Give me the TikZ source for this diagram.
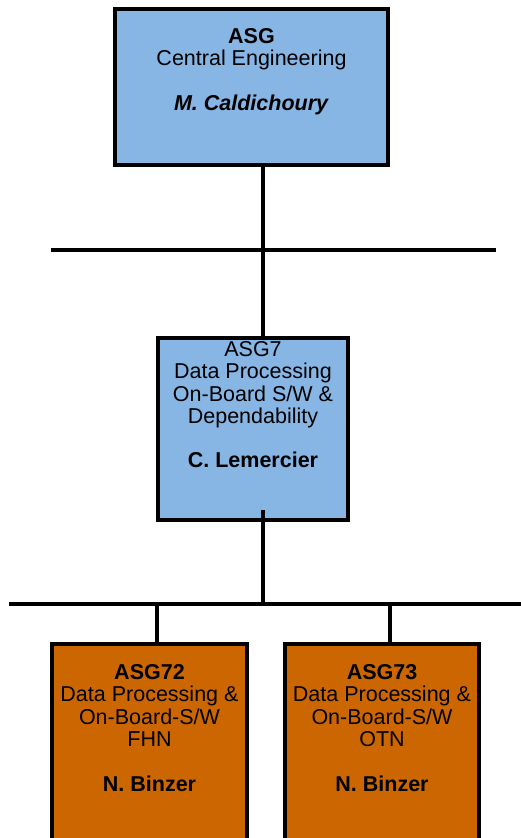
\documentclass[tikz,border=0pt]{standalone}
\usepackage{fontspec}
\setmainfont{Liberation Sans}
\usetikzlibrary{positioning}
\definecolor{deptblue}{RGB}{135,181,228}
\definecolor{deptorange}{RGB}{204,102,0}
\tikzset{
  unitbox/.style={draw=black, line width=3.5pt, inner sep=0pt},
  bluebox/.style={unitbox, fill=deptblue},
  orangebox/.style={unitbox, fill=deptorange},
  boxtext/.style={align=center, inner sep=0pt, font=\fontsize{21.5}{22.5}\selectfont},
  wire/.style={line width=3.5pt}
}
\begin{document}
\begin{tikzpicture}[x=1pt, y=-1pt]
\useasboundingbox (0, 0) rectangle (521, 838);
\clip (0, 0) rectangle (521, 838);
% boxes
\node[bluebox, minimum width=273pt, minimum height=156pt] (asg) at (251.5, 87) {};
\node[bluebox, minimum width=190pt, minimum height=182pt] (asgsev) at (253, 429) {};
\node[orangebox, minimum width=195pt, minimum height=256pt] (asgsevtwo) at (149.5, 772) {};
\node[orangebox, minimum width=194pt, minimum height=256pt] (asgsevthree) at (382, 772) {};
% texts
\node[boxtext, below=21pt of asg.north] (asgtext) {\textbf{ASG}\\Central Engineering\\[22pt]\textbf{\textit{M. Caldichoury}}};
\node[boxtext, below=5pt of asgsev.north] (asgsevtext) {ASG7\\Data Processing\\On-Board S/W \&\\Dependability\\[21pt]\textbf{C. Lemercier}};
\node[boxtext, below=22pt of asgsevtwo.north] (asgsevtwotext) {\textbf{ASG72}\\Data Processing \&\\On-Board-S/W\\FHN\\[22pt]\textbf{N. Binzer}};
\node[boxtext, below=22pt of asgsevthree.north] (asgsevthreetext) {\textbf{ASG73}\\Data Processing \&\\On-Board-S/W\\OTN\\[22pt]\textbf{N. Binzer}};
% bus lines
\coordinate (spine) at (263, 0);
\coordinate (busaleft) at (51, 250);
\coordinate (busaright) at (496, 250);
\coordinate (busbleft) at (9, 604);
\coordinate (busbright) at (530, 604);
\coordinate (tapleft) at (157, 604);
\coordinate (tapright) at (390, 604);
\draw[wire] (busaleft) -- (busaright);
\draw[wire] (busbleft) -- (busbright);
% connectors
\draw[wire] (asg.south -| spine) -- (asgsev.north -| spine);
\draw[wire] ([yshift=12pt]asgsev.south -| spine) -- (busbleft -| spine);
\draw[wire] (tapleft) -- (asgsevtwo.north -| tapleft);
\draw[wire] (tapright) -- (asgsevthree.north -| tapright);
\end{tikzpicture}
\end{document}
